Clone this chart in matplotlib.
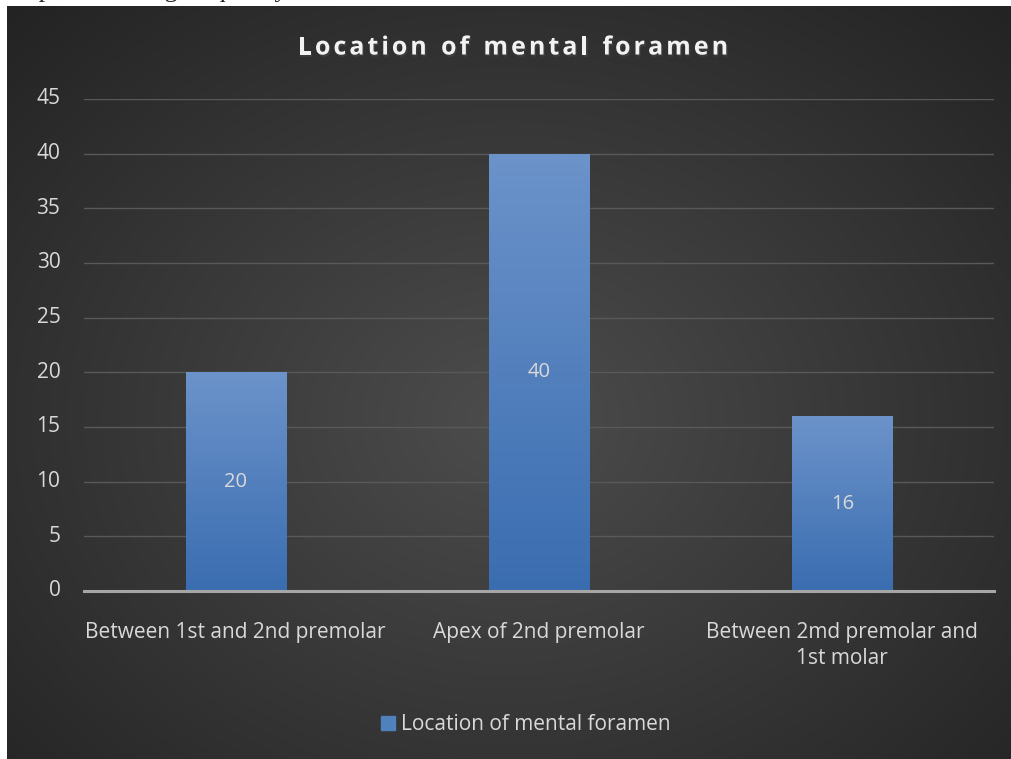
import numpy as np
import matplotlib
matplotlib.use("Agg")
import matplotlib.pyplot as plt
import matplotlib.patheffects as pe
from matplotlib.patches import Rectangle

categories = ["Between 1st and 2nd premolar", "Apex of 2nd premolar",
              "Between 2md premolar and\n1st molar"]
values = [20, 40, 16]
yticks = [0, 5, 10, 15, 20, 25, 30, 35, 40, 45]
title = "Location of mental foramen"
series_name = "Location of mental foramen"
caption = "Graph 3 showing frequency distribution of location of mental foramen"

plt.rcParams["font.family"] = ["Open Sans", "DejaVu Sans"]

W, H = 1011, 759
fig = plt.figure(figsize=(W / 100, H / 100), dpi=100)
fig.patch.set_facecolor("white")

# dark panel with radial gradient
bg = fig.add_axes([7 / W, 0, 1 - 7 / W, 1 - 6 / H], zorder=0)
bg.set_axis_off()
yy, xx = np.mgrid[0:1:300j, 0:1:400j]
r = np.sqrt(((xx - 0.5) / 0.75) ** 2 + ((yy - 0.55) / 0.8) ** 2)
shade = np.clip(0.30 - 0.17 * r, 0.14, 0.30)
bg.imshow(np.dstack([shade] * 3), aspect="auto", extent=[0, 1, 0, 1],
          interpolation="bicubic")
bg.set_xlim(0, 1)
bg.set_ylim(0, 1)

# caption cut off by the top edge, only its lowest part shows
fig.text(0.0, 1 + 3 / H, caption, family="Liberation Serif", fontsize=18.5,
         color="#222222", ha="left", va="baseline", zorder=-5)

ax = fig.add_axes([84 / W, 1 - 591 / H, 910 / W, 492 / H], zorder=1)
ax.set_facecolor("none")
x = np.arange(len(categories))
bars = ax.bar(x, values, width=0.33, color="#4f81bd", zorder=3)

# vertical gradient on each bar
grad = np.linspace(0, 1, 256).reshape(-1, 1)
top = np.array([0x6c, 0x93, 0xca]) / 255
bot = np.array([0x3a, 0x6d, 0xb0]) / 255
img = top * (1 - grad[..., None]) + bot * grad[..., None]
img = img.reshape(256, 1, 3)
for b in bars:
    x0, w, h = b.get_x(), b.get_width(), b.get_height()
    im = ax.imshow(img, extent=[x0, x0 + w, 0, h], aspect="auto", zorder=4)
    im.set_clip_path(b)

for xi, v in zip(x, values):
    ax.text(xi, v / 2, str(v), ha="center", va="center", fontsize=14.5,
            color="#d9d9d9", zorder=5)

ax.set_xlim(-0.5, 2.5)
ax.set_ylim(0, 45)
ax.set_yticks(yticks)
ax.set_xticks(x)
ax.set_xticklabels(categories, linespacing=1.35)
ax.tick_params(axis="y", length=0, pad=17, labelsize=15, labelcolor="#d9d9d9")
ax.tick_params(axis="x", length=0, pad=22, labelsize=15, labelcolor="#d9d9d9")
for t in ax.get_yticklabels():
    t.set_va("center")
ax.grid(axis="y", color="#595959", linewidth=1, zorder=0)
ax.axhline(0, color="#a6a6a6", linewidth=2.2, zorder=6, clip_on=False)
for s in ax.spines.values():
    s.set_visible(False)

# title with letter spacing
fig.canvas.draw()
renderer = fig.canvas.get_renderer()
kw = dict(fontsize=18, fontweight="bold", color="#f2f2f2")
widths = []
for ch in title:
    t = fig.text(0, 0, ch if ch != " " else "n", **kw)
    bb = t.get_window_extent(renderer)
    widths.append(bb.width if ch != " " else bb.width * 0.5)
    t.remove()
spacing = 3.0
total = sum(widths) + spacing * (len(title) - 1)
xpos = 513 - total / 2
for ch, w in zip(title, widths):
    if ch != " ":
        fig.text(xpos / W, 1 - 48 / H, ch, ha="left", va="center",
                 path_effects=[pe.SimplePatchShadow(offset=(1, -1.5), alpha=0.5),
                               pe.Normal()], **kw)
    xpos += w + spacing

handle = Rectangle((0, 0), 1, 1, color="#4f81bd")
leg = fig.legend([handle], [series_name], loc="center",
                 bbox_to_anchor=(526 / W, 1 - 725 / H), frameon=False,
                 fontsize=15, handlelength=0.65, handleheight=0.65,
                 handletextpad=0.3)
for t in leg.get_texts():
    t.set_color("#d9d9d9")

fig.savefig("out.png", dpi=100, facecolor=fig.get_facecolor())
